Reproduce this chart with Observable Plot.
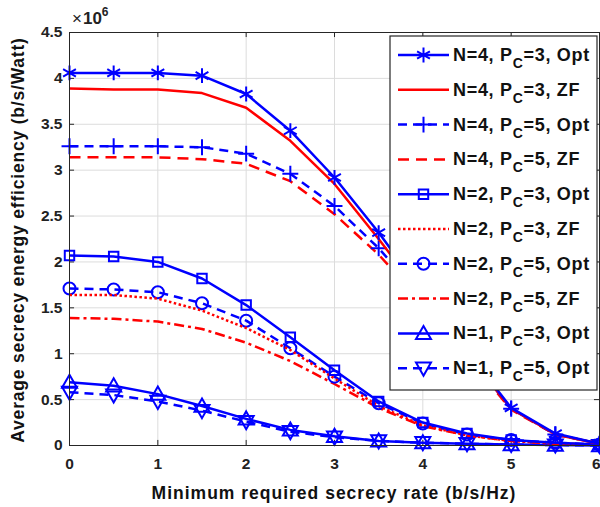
<!DOCTYPE html>
<html>
<head>
<meta charset="utf-8">
<script src="https://cdn.jsdelivr.net/npm/d3@7"></script>
<script src="https://cdn.jsdelivr.net/npm/@observablehq/plot@0.6"></script>
<style>
  html, body { margin: 0; padding: 0; background: #fff; }
  #wrap { position: relative; width: 600px; height: 507px; overflow: hidden; }
  #wrap svg { position: absolute; left: 0; top: 0; }
</style>
</head>
<body>
<div id="wrap"></div>
<script>
// Minimum required secrecy rate (b/s/Hz)
const rate = [0, 0.5, 1, 1.5, 2, 2.5, 3, 3.5, 4, 4.5, 5, 5.5, 6];
// Average secrecy energy efficiency, in units of 1e6 b/s/Watt
const n4pc3Opt = [4.06, 4.06, 4.06, 4.03, 3.83, 3.43, 2.92, 2.32, 1.66, 1.03, 0.41, 0.13, 0.02];
const n4pc3ZF  = [3.89, 3.88, 3.88, 3.84, 3.68, 3.32, 2.85, 2.25, 1.62, 1.00, 0.40, 0.12, 0.02];
const n4pc5Opt = [3.26, 3.26, 3.26, 3.25, 3.18, 2.96, 2.61, 2.15, 1.60, 1.00, 0.40, 0.12, 0.02];
const n4pc5ZF  = [3.14, 3.14, 3.14, 3.12, 3.07, 2.88, 2.52, 2.08, 1.55, 0.97, 0.39, 0.12, 0.02];
const n2pc3Opt = [2.07, 2.06, 2.00, 1.82, 1.53, 1.18, 0.82, 0.48, 0.25, 0.13, 0.06, 0.03, 0.01];
const n2pc3ZF  = [1.64, 1.64, 1.60, 1.47, 1.28, 1.04, 0.73, 0.43, 0.22, 0.11, 0.05, 0.02, 0.01];
const n2pc5Opt = [1.71, 1.70, 1.67, 1.55, 1.36, 1.06, 0.75, 0.46, 0.24, 0.12, 0.06, 0.03, 0.01];
const n2pc5ZF  = [1.39, 1.38, 1.35, 1.27, 1.12, 0.92, 0.67, 0.41, 0.21, 0.11, 0.05, 0.02, 0.01];
const n1pc3Opt = [0.69, 0.65, 0.56, 0.43, 0.29, 0.17, 0.10, 0.05, 0.03, 0.02, 0.01, 0.005, 0.0];
const n1pc5Opt = [0.58, 0.55, 0.48, 0.38, 0.26, 0.15, 0.09, 0.05, 0.03, 0.02, 0.01, 0.005, 0.0];

const xTicks = [0, 1, 2, 3, 4, 5, 6];
const yTicks = [0, 0.5, 1, 1.5, 2, 2.5, 3, 3.5, 4, 4.5];
const xLabel = "Minimum required secrecy rate (b/s/Hz)";
const yLabel = "Average secrecy energy efficiency (b/s/Watt)";

const BLUE = "#0000ff", RED = "#ff0000";

const triUp = {draw(ctx, size) { const r = Math.sqrt(size / Math.PI); ctx.moveTo(0, -r); ctx.lineTo(r, 0.75 * r); ctx.lineTo(-r, 0.75 * r); ctx.closePath(); }};
const triDown = {draw(ctx, size) { const r = Math.sqrt(size / Math.PI); ctx.moveTo(0, r); ctx.lineTo(r, -0.75 * r); ctx.lineTo(-r, -0.75 * r); ctx.closePath(); }};

const series = [
  {key: "N4P3O", n: "4", pc: "3", m: "Opt", values: n4pc3Opt, color: BLUE, dash: null, symbol: "asterisk", r: 7},
  {key: "N4P3Z", n: "4", pc: "3", m: "ZF",  values: n4pc3ZF,  color: RED,  dash: null, symbol: null},
  {key: "N4P5O", n: "4", pc: "5", m: "Opt", values: n4pc5Opt, color: BLUE, dash: "9,6", symbol: "plus", r: 5.2},
  {key: "N4P5Z", n: "4", pc: "5", m: "ZF",  values: n4pc5ZF,  color: RED,  dash: "11,7", symbol: null},
  {key: "N2P3O", n: "2", pc: "3", m: "Opt", values: n2pc3Opt, color: BLUE, dash: null, symbol: "square2", r: 6},
  {key: "N2P3Z", n: "2", pc: "3", m: "ZF",  values: n2pc3ZF,  color: RED,  dash: "2.5,2.5", symbol: null},
  {key: "N2P5O", n: "2", pc: "5", m: "Opt", values: n2pc5Opt, color: BLUE, dash: "9,6", symbol: "circle", r: 6},
  {key: "N2P5Z", n: "2", pc: "5", m: "ZF",  values: n2pc5ZF,  color: RED,  dash: "10,4,3,4", symbol: null},
  {key: "N1P3O", n: "1", pc: "3", m: "Opt", values: n1pc3Opt, color: BLUE, dash: null, symbol: triUp, r: 7.5},
  {key: "N1P5O", n: "1", pc: "5", m: "Opt", values: n1pc5Opt, color: BLUE, dash: "9,6", symbol: triDown, r: 7.5}
];

const tickStyle = {tickSize: 0, fontSize: 15.5, fontWeight: "bold", fill: "#222", label: null};
const marks = [
  Plot.gridX(xTicks, {stroke: "#dcdcdc", strokeOpacity: 1, strokeWidth: 1}),
  Plot.gridY(yTicks, {stroke: "#dcdcdc", strokeOpacity: 1, strokeWidth: 1}),
  Plot.axisX(xTicks.slice(0, -1), {...tickStyle, tickPadding: 12}),
  Plot.axisX(xTicks.slice(-1), {...tickStyle, tickPadding: 12, textAnchor: "end", dx: 1}),
  Plot.axisY(yTicks, {...tickStyle, tickPadding: 7, tickFormat: d => String(d)}),
  Plot.ruleX(xTicks, {y1: 0, y2: 0.055, stroke: "#262626"}),
  Plot.ruleX(xTicks, {y1: 4.5, y2: 4.445, stroke: "#262626"}),
  Plot.ruleY(yTicks, {x1: 0, x2: 0.057, stroke: "#262626"}),
  Plot.ruleY(yTicks, {x1: 6, x2: 5.943, stroke: "#262626"})
];

// draw in reverse so earlier series are on top
for (const s of series.slice().reverse()) {
  const data = rate.map((x, i) => ({x, y: s.values[i]}));
  marks.push(Plot.line(data, {x: "x", y: "y", stroke: s.color, strokeWidth: 2.5, strokeDasharray: s.dash || undefined, strokeLinejoin: "round", strokeLinecap: "butt"}));
  if (s.symbol) {
    marks.push(Plot.dot(data, {x: "x", y: "y", symbol: () => s.symbol, r: s.r, stroke: s.color, fill: "none", strokeWidth: 2}));
  }
}
marks.push(Plot.frame({stroke: "#262626", strokeWidth: 1}));

const chart = Plot.plot({
  width: 600,
  height: 507,
  marginLeft: 69,
  marginRight: 1,
  marginTop: 32,
  marginBottom: 62,
  style: {fontFamily: "'Liberation Sans', Arial, Helvetica, sans-serif", background: "white", overflow: "visible"},
  x: {domain: [0, 6]},
  y: {domain: [0, 4.5]},
  symbol: {type: "identity"},
  marks
});
const wrap = document.getElementById("wrap");
wrap.appendChild(chart);

// overlay: axis titles, exponent, legend
const ov = d3.select(wrap).append("svg").attr("width", 600).attr("height", 507)
  .style("font-family", "'Liberation Sans', Arial, Helvetica, sans-serif").style("pointer-events", "none");

ov.append("text").attr("x", 334).attr("y", 499).attr("text-anchor", "middle")
  .attr("font-size", 17.5).attr("letter-spacing", 1).attr("font-weight", "bold").attr("fill", "#111").text(xLabel);
ov.append("text").attr("transform", "translate(24,240) rotate(-90)").attr("text-anchor", "middle")
  .attr("font-size", 17.5).attr("letter-spacing", 0.8).attr("font-weight", "bold").attr("fill", "#111").text(yLabel);

const ex = ov.append("text").attr("x", 72).attr("y", 24).attr("font-size", 17).attr("fill", "#222");
ex.append("tspan").text("\u00d7");
ex.append("tspan").attr("font-weight", "bold").attr("dx", 1).text("10");
ex.append("tspan").attr("font-weight", "bold").attr("font-size", 12).attr("dy", -8).text("6");

// legend
const lx = 390, ly = 36, lw = 207, lh = 354, step = 34.8, y0 = 55;
ov.append("rect").attr("x", lx).attr("y", ly).attr("width", lw).attr("height", lh)
  .attr("fill", "white").attr("stroke", "#262626").attr("stroke-width", 1.2);

series.forEach((s, i) => {
  const cy = y0 + i * step;
  const g = ov.append("g");
  g.append("line").attr("x1", 398).attr("x2", 449).attr("y1", cy).attr("y2", cy)
    .attr("stroke", s.color).attr("stroke-width", 2.5).attr("stroke-dasharray", s.dash);
  if (s.symbol) {
    const symMap = {asterisk: d3.symbolAsterisk, plus: d3.symbolPlus, square2: d3.symbolSquare2, circle: d3.symbolCircle};
    const type = typeof s.symbol === "string" ? symMap[s.symbol] : s.symbol;
    g.append("path").attr("transform", `translate(423.5,${cy})`)
      .attr("d", d3.symbol(type, Math.PI * s.r * s.r)())
      .attr("fill", "none").attr("stroke", s.color).attr("stroke-width", 2);
  }
  const t = g.append("text").attr("x", 453).attr("y", cy + 6).attr("font-size", 18).attr("letter-spacing", 0.7).attr("font-weight", "bold").attr("fill", "#111");
  t.append("tspan").text(`N=${s.n}, P`);
  t.append("tspan").attr("font-size", 14).attr("dy", 7).text("C");
  t.append("tspan").attr("dy", -7).text(`=${s.pc}, ${s.m}`);
});
</script>
</body>
</html>
